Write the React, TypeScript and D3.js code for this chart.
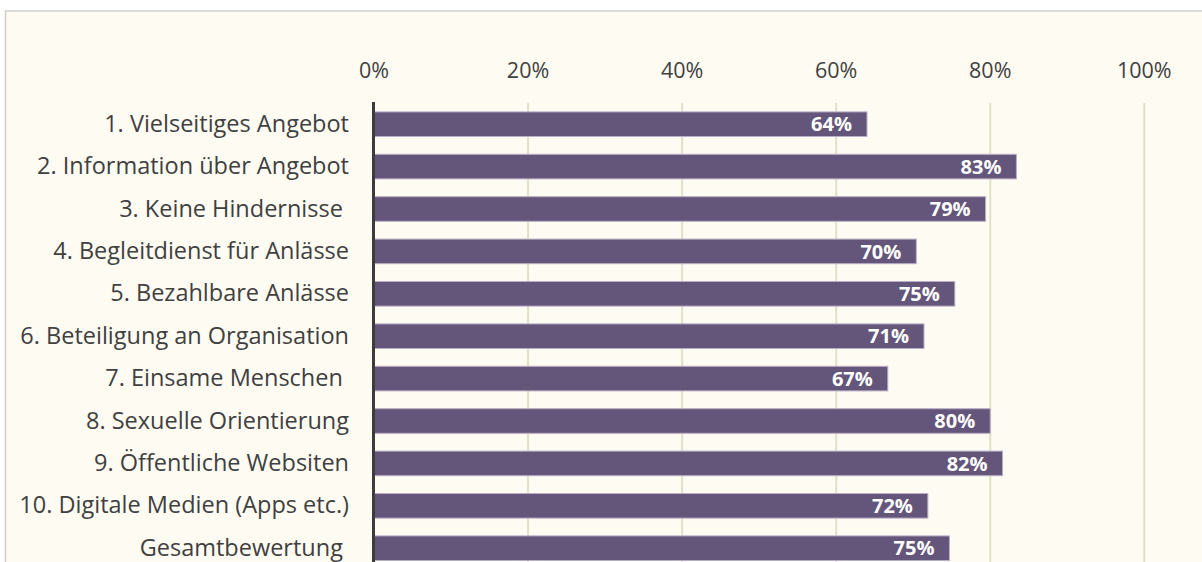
import React from "react";
import * as d3 from "d3";

const categories = [
  "1. Vielseitiges Angebot",
  "2. Information über Angebot",
  "3. Keine Hindernisse ",
  "4. Begleitdienst für Anlässe",
  "5. Bezahlbare Anlässe",
  "6. Beteiligung an Organisation",
  "7. Einsame Menschen ",
  "8. Sexuelle Orientierung",
  "9. Öffentliche Websiten",
  "10. Digitale Medien (Apps etc.)",
  "Gesamtbewertung ",
];
const values = [64.0, 83.4, 79.4, 70.4, 75.4, 71.4, 66.7, 80.0, 81.6, 71.9, 74.7];
const tickValues = [0, 20, 40, 60, 80, 100];

const W = 1202;
const H = 562;
const FONT = "'Open Sans', Lato, sans-serif";

export default function App() {
  const x = d3.scaleLinear().domain([0, 100]).range([374, 1144.3]);
  const y = d3
    .scaleBand<string>()
    .domain(categories)
    .range([103, 103 + 11 * 42.4])
    .paddingInner(0.42)
    .paddingOuter(0.21);
  const bh = y.bandwidth();
  const plotTop = 103;
  const plotBottom = 103 + 11 * 42.4;

  return (
    <svg
      width={W}
      height={H}
      style={{ position: "absolute", left: 0, top: 0, display: "block", fontVariantLigatures: "none" }}
    >
      <rect x={0} y={0} width={W} height={H} fill="#ffffff" />
      <rect x={5.5} y={11} width={W + 10} height={H + 10} fill="#fefbf2" stroke="#cfcfcf" strokeWidth={1.5} />
      {tickValues.map((t) => (
        <g key={t}>
          {t > 0 && (
            <line x1={x(t)} x2={x(t)} y1={plotTop} y2={plotBottom} stroke="#e2e0c9" strokeWidth={2} />
          )}
          <text
            x={x(t)}
            y={78}
            textAnchor="middle"
            fontFamily={FONT}
            fontSize={21.5}
            fill="#404040"
          >
            {t + "%"}
          </text>
        </g>
      ))}
      {categories.map((c, i) => (
        <g key={c}>
          <rect
            x={x(0)}
            y={y(c)}
            width={x(values[i]) - x(0)}
            height={bh}
            fill="#64567a"
            stroke="#baaec6"
            strokeWidth={1}
          />
          <text
            x={x(values[i]) - 15}
            y={(y(c) as number) + bh / 2}
            dy="0.36em"
            textAnchor="end"
            fontFamily={FONT}
            fontWeight="bold"
            fontSize={20}
            fill="#ffffff"
          >
            {Math.round(values[i]) + "%"}
          </text>
          <text
            x={349}
            y={(y(c) as number) + bh / 2}
            dy="0.32em"
            textAnchor="end"
            fontFamily={FONT}
            fontSize={23.5}
            fill="#404040"
            style={{ whiteSpace: "pre" }}
          >
            {c}
          </text>
        </g>
      ))}
      <line x1={373.5} x2={373.5} y1={plotTop - 1} y2={plotBottom} stroke="#3c3c3c" strokeWidth={3} />
    </svg>
  );
}
